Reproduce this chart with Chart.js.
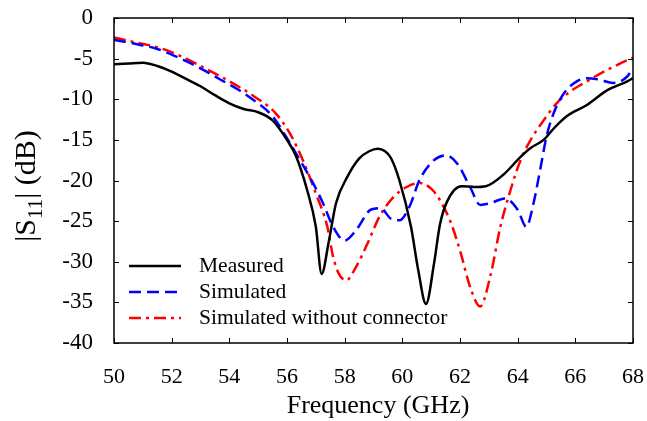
<!DOCTYPE html>
<html>
<head>
<meta charset="utf-8">
<script src="https://cdn.jsdelivr.net/npm/chart.js@4"></script>
<style>
  html, body { margin: 0; padding: 0; background: #ffffff; }
  #wrap { width: 647px; height: 421px; position: relative; }
</style>
</head>
<body>
<div id="wrap"><canvas id="s11Chart"></canvas></div>
<script>
var measuredF = [50, 50.5, 51, 51.5, 52, 52.5, 53, 53.5, 54, 54.5, 55, 55.5, 56, 56.3, 56.7, 57.0, 57.2, 57.45, 57.7, 58.1, 58.5, 58.85, 59.15, 59.4, 59.6, 59.9, 60.3, 60.55, 60.82, 61.1, 61.3, 61.55, 62.05, 62.5, 62.9, 63.5, 64.1, 64.45, 64.9, 65.25, 65.7, 66.4, 67.1, 67.8, 68];
var measuredDb = [-5.7, -5.6, -5.5, -5.9, -6.6, -7.5, -8.4, -9.5, -10.5, -11.2, -11.6, -12.6, -15.0, -16.9, -21.2, -25.7, -31.5, -27.5, -22.8, -19.5, -17.3, -16.4, -16.1, -16.4, -17.2, -20.0, -25.7, -31.0, -35.2, -30.2, -25.5, -22.6, -20.7, -20.8, -20.7, -19.3, -17.1, -16.0, -15.0, -13.6, -12.1, -10.7, -8.9, -7.8, -7.4];

var simulatedF = [50, 50.5, 51, 51.4, 52, 52.5, 53, 53.7, 54.3, 54.8, 55.5, 56, 56.45, 56.9, 57.25, 57.6, 58.0, 58.4, 58.9, 59.25, 59.6, 59.9, 60.25, 60.6, 61.1, 61.5, 61.9, 62.35, 62.7, 63.05, 63.55, 64.0, 64.3, 64.55, 64.8, 65.0, 65.25, 65.6, 66.05, 66.4, 66.85, 67.3, 67.8, 68];
var simulatedDb = [-2.7, -3.0, -3.4, -3.7, -4.5, -5.3, -6.2, -7.6, -8.8, -10.0, -12.1, -14.8, -17.5, -20.3, -22.8, -25.7, -27.4, -26.1, -23.6, -23.4, -24.7, -24.9, -23.2, -19.9, -17.5, -16.9, -17.9, -20.8, -23.0, -22.8, -22.2, -23.6, -25.7, -22.8, -18.3, -14.6, -11.7, -9.3, -7.8, -7.4, -7.6, -8.0, -7.2, -6.1];

var noConnF = [50, 50.5, 51, 51.4, 52, 52.5, 53, 53.7, 54.3, 54.8, 55.6, 56.1, 56.55, 57.0, 57.4, 57.6, 57.8, 58.05, 58.4, 58.8, 59.2, 59.7, 60.15, 60.6, 61.0, 61.3, 61.65, 62.0, 62.35, 62.7, 63.05, 63.4, 63.75, 64.1, 64.45, 64.9, 65.35, 65.8, 66.4, 67.1, 67.8, 68];
var noConnDb = [-2.4, -2.8, -3.2, -3.5, -4.2, -5.0, -5.9, -7.2, -8.4, -9.5, -11.7, -14.2, -17.5, -21.6, -25.7, -29.4, -31.5, -32.3, -30.6, -27.7, -24.5, -22.0, -20.8, -20.3, -21.0, -22.4, -24.9, -28.6, -33.1, -35.5, -31.8, -25.7, -21.2, -17.5, -15.0, -12.6, -10.5, -9.1, -7.8, -6.4, -5.2, -4.9];

var seriesNames = ['Measured', 'Simulated', 'Simulated without connector'];
var xTicks = [50, 52, 54, 56, 58, 60, 62, 64, 66, 68];
var yTicks = [0, -5, -10, -15, -20, -25, -30, -35, -40];

var serif = '"Liberation Serif", "Times New Roman", serif';

function toPoints(xs, ys) {
    return xs.map(function (x, i) { return { x: x, y: ys[i] }; });
}

function lineSet(label, xs, ys, color, dash) {
    return {
        label:                  label,
        data:                   toPoints(xs, ys),
        borderColor:            color,
        backgroundColor:        color,
        borderWidth:            2.5,
        borderDash:             dash,
        pointRadius:            0,
        fill:                   false,
        cubicInterpolationMode: 'monotone'
    };
}

function noScalePadding(s) {
    s.paddingLeft = 0; s.paddingRight = 0;
    s.paddingTop = 0;  s.paddingBottom = 0;
}

// frame, inward ticks, axis titles and the legend box
var decorations = {
    id: 'decorations',
    afterDraw: function (chart) {
        var ctx = chart.ctx;
        var a = chart.chartArea;
        var xs = chart.scales.x, ys = chart.scales.y;
        ctx.save();
        ctx.strokeStyle = '#000';
        ctx.lineWidth = 1.5;
        ctx.setLineDash([]);
        ctx.strokeRect(a.left, a.top, a.right - a.left, a.bottom - a.top);

        ctx.lineWidth = 1;
        ctx.beginPath();
        xTicks.forEach(function (v) {
            var px = Math.round(xs.getPixelForValue(v)) + 0.5;
            ctx.moveTo(px, a.bottom); ctx.lineTo(px, a.bottom - 5);
            ctx.moveTo(px, a.top);    ctx.lineTo(px, a.top + 5);
        });
        yTicks.forEach(function (v) {
            var py = Math.round(ys.getPixelForValue(v)) + 0.5;
            ctx.moveTo(a.left, py);  ctx.lineTo(a.left + 5, py);
            ctx.moveTo(a.right, py); ctx.lineTo(a.right - 5, py);
        });
        ctx.stroke();

        // x title
        ctx.fillStyle = '#000';
        ctx.font = '26px ' + serif;
        ctx.textAlign = 'center';
        ctx.textBaseline = 'alphabetic';
        ctx.fillText('Frequency (GHz)', 378, 413);

        // y title with subscript
        var big = '30px ' + serif, small = '21px ' + serif;
        ctx.font = big;
        var w1 = ctx.measureText('|S').width;
        var w3 = ctx.measureText('| (dB)').width;
        ctx.font = small;
        var w2 = ctx.measureText('11').width;
        var total = w1 + w2 + w3;
        ctx.translate(35, 186);
        ctx.rotate(-Math.PI / 2);
        ctx.textAlign = 'left';
        var sx = -total / 2;
        ctx.font = big;   ctx.fillText('|S', sx, 0);
        ctx.font = small; ctx.fillText('11', sx + w1, 7);
        ctx.font = big;   ctx.fillText('| (dB)', sx + w1 + w2, 0);
        ctx.setTransform(1, 0, 0, 1, 0, 0);

        // legend
        ctx.font = '21.5px ' + serif;
        ctx.textBaseline = 'middle';
        chart.data.datasets.forEach(function (ds, i) {
            var y = 266 + i * 26;
            ctx.strokeStyle = ds.borderColor;
            ctx.lineWidth = 2.5;
            ctx.setLineDash(ds.borderDash || []);
            ctx.beginPath();
            ctx.moveTo(129, y); ctx.lineTo(181, y);
            ctx.stroke();
            ctx.setLineDash([]);
            ctx.fillStyle = '#000';
            ctx.fillText(ds.label, 199, y);
        });
        ctx.restore();
    }
};

new Chart(document.getElementById('s11Chart'), {
    type: 'line',
    data: {
        datasets: [
            lineSet(seriesNames[0], measuredF,  measuredDb,  '#000000', []),
            lineSet(seriesNames[1], simulatedF, simulatedDb, '#0000ff', [12, 6]),
            lineSet(seriesNames[2], noConnF,    noConnDb,    '#ff0000', [12, 5, 3, 5])
        ]
    },
    options: {
        responsive:          true,
        maintainAspectRatio: false,
        animation:           false,
        layout: { padding: { top: 18, right: 14, left: 0, bottom: 0 } },
        plugins: {
            legend:  { display: false },
            tooltip: { enabled: false }
        },
        scales: {
            x: {
                type: 'linear',
                min: 50, max: 68,
                afterFit: function (s) { s.height = 78; noScalePadding(s); },
                afterBuildTicks: function (s) { s.ticks = xTicks.map(function (v) { return { value: v }; }); },
                grid:   { display: false, drawTicks: false },
                border: { display: false },
                ticks:  { color: '#000', padding: 21, maxRotation: 0, font: { family: serif, size: 22 } }
            },
            y: {
                type: 'linear',
                min: -40, max: 0,
                afterFit: function (s) { s.width = 114; noScalePadding(s); },
                afterBuildTicks: function (s) { s.ticks = yTicks.map(function (v) { return { value: v }; }); },
                grid:   { display: false, drawTicks: false },
                border: { display: false },
                ticks:  {
                    color: '#000', padding: 21,
                    font: { family: serif, size: 23 },
                    callback: function (v) { return String(v); }
                }
            }
        }
    },
    plugins: [decorations]
});
</script>
</body>
</html>
